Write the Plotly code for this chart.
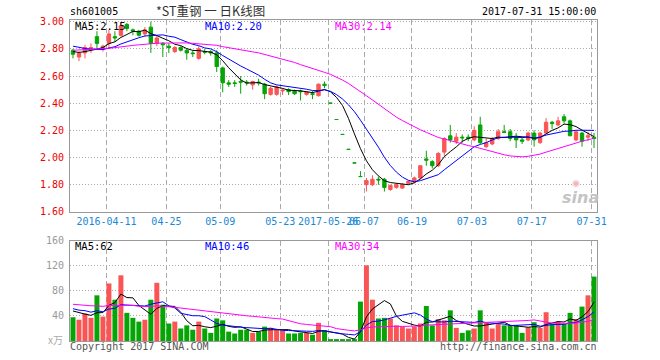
import plotly.graph_objects as go
import pandas as pd

# ---------------- data ----------------
dates = [
    "2016-03-31", "2016-04-01", "2016-04-05", "2016-04-06", "2016-04-07", "2016-04-08",
    "2016-04-11", "2016-04-12", "2016-04-13", "2016-04-14", "2016-04-15",
    "2016-04-18", "2016-04-19", "2016-04-20", "2016-04-21", "2016-04-22",
    "2016-04-25", "2016-04-26", "2016-04-27", "2016-04-28", "2016-04-29",
    "2016-05-03", "2016-05-04", "2016-05-05", "2016-05-06",
    "2016-05-09", "2016-05-10", "2016-05-11", "2016-05-12", "2016-05-13",
    "2016-05-16", "2016-05-17", "2016-05-18", "2016-05-19", "2016-05-20",
    "2016-05-23", "2016-05-24", "2016-05-25", "2016-05-26", "2016-05-27",
    "2016-05-30", "2016-05-31", "2016-06-01",
    "2017-05-26", "2017-05-31", "2017-06-01", "2017-06-02", "2017-06-05", "2017-06-06",
    "2017-06-07", "2017-06-08", "2017-06-09", "2017-06-12", "2017-06-13",
    "2017-06-14", "2017-06-15", "2017-06-16", "2017-06-19", "2017-06-20",
    "2017-06-21", "2017-06-22", "2017-06-23", "2017-06-26", "2017-06-27",
    "2017-06-28", "2017-06-29", "2017-06-30", "2017-07-03", "2017-07-04",
    "2017-07-05", "2017-07-06", "2017-07-07", "2017-07-10", "2017-07-11",
    "2017-07-12", "2017-07-13", "2017-07-14", "2017-07-17", "2017-07-18",
    "2017-07-19", "2017-07-20", "2017-07-21", "2017-07-24", "2017-07-25",
    "2017-07-26", "2017-07-27", "2017-07-28", "2017-07-31",
]

opens = [
    2.79, 2.74, 2.77, 2.80, 2.89, 2.80, 2.84, 2.89, 2.90, 2.98, 2.94,
    2.93, 2.91, 2.96, 2.84, 2.84, 2.82, 2.78, 2.81, 2.79, 2.77,
    2.73, 2.78, 2.78, 2.77, 2.66, 2.55, 2.55, 2.56, 2.555,
    2.535, 2.555, 2.54, 2.465, 2.465, 2.49, 2.50, 2.49, 2.49, 2.465,
    2.47, 2.455, 2.54,
    2.40, 2.28, 2.17, 2.06, 1.96, 1.86,
    1.80, 1.80, 1.84, 1.84, 1.765, 1.78, 1.775, 1.81, 1.82, 1.85,
    1.99, 1.97, 1.94, 2.04, 2.16, 2.12, 2.15, 2.15, 2.13, 2.24,
    2.08, 2.10, 2.14, 2.19, 2.19, 2.15, 2.13, 2.13, 2.18, 2.11,
    2.18, 2.26, 2.24, 2.30, 2.27, 2.13, 2.18, 2.15, 2.15,
]
highs = [
    2.80, 2.78, 2.83, 2.84, 2.93, 2.83, 2.94, 2.93, 2.99, 2.99, 2.95,
    2.94, 2.96, 3.00, 2.90, 2.85, 2.84, 2.82, 2.82, 2.80, 2.79,
    2.82, 2.80, 2.79, 2.79, 2.67, 2.57, 2.57, 2.60, 2.57,
    2.565, 2.58, 2.55, 2.52, 2.53, 2.51, 2.51, 2.50, 2.50, 2.49,
    2.49, 2.545, 2.56,
    2.40, 2.28, 2.17, 2.06, 1.96, 1.90,
    1.85, 1.87, 1.86, 1.85, 1.80, 1.81, 1.81, 1.83, 1.86, 1.94,
    2.05, 1.98, 2.04, 2.15, 2.24, 2.18, 2.17, 2.17, 2.23, 2.30,
    2.14, 2.15, 2.21, 2.24, 2.21, 2.18, 2.15, 2.19, 2.20, 2.19,
    2.29, 2.27, 2.30, 2.32, 2.28, 2.20, 2.19, 2.19, 2.18,
]
lows = [
    2.73, 2.71, 2.73, 2.77, 2.80, 2.78, 2.80, 2.85, 2.89, 2.93, 2.90,
    2.89, 2.89, 2.77, 2.82, 2.74, 2.77, 2.77, 2.78, 2.72, 2.74,
    2.72, 2.76, 2.75, 2.63, 2.48, 2.52, 2.52, 2.47, 2.53,
    2.50, 2.53, 2.43, 2.455, 2.455, 2.46, 2.46, 2.46, 2.42, 2.455,
    2.43, 2.45, 2.51,
    2.40, 2.28, 2.17, 2.06, 1.96, 1.86,
    1.75, 1.79, 1.80, 1.75, 1.755, 1.77, 1.77, 1.80, 1.81, 1.84,
    1.94, 1.92, 1.93, 2.01, 2.11, 2.10, 2.11, 2.12, 2.12, 2.10,
    2.07, 2.09, 2.13, 2.18, 2.12, 2.07, 2.10, 2.12, 2.08, 2.10,
    2.18, 2.21, 2.23, 2.25, 2.16, 2.12, 2.08, 2.12, 2.07,
]
closes = [
    2.76, 2.77, 2.81, 2.81, 2.84, 2.82, 2.91, 2.88, 2.97, 2.95, 2.93,
    2.90, 2.94, 2.84, 2.88, 2.83, 2.81, 2.81, 2.79, 2.77, 2.765,
    2.80, 2.775, 2.77, 2.67, 2.55, 2.54, 2.545, 2.555, 2.55,
    2.56, 2.55, 2.47, 2.51, 2.52, 2.495, 2.485, 2.47, 2.485, 2.485,
    2.465, 2.54, 2.53,
    2.40, 2.28, 2.17, 2.06, 1.96, 1.86,
    1.83, 1.84, 1.835, 1.78, 1.795, 1.80, 1.80, 1.825, 1.85, 1.94,
    1.98, 1.94, 2.03, 2.14, 2.13, 2.15, 2.145, 2.14, 2.20, 2.11,
    2.11, 2.14, 2.19, 2.185, 2.14, 2.13, 2.12, 2.18, 2.13, 2.18,
    2.26, 2.25, 2.27, 2.27, 2.16, 2.19, 2.12, 2.16, 2.14,
]
volumes = [
    38, 34, 44, 37, 73, 39, 92, 66, 105, 45, 37,
    31, 34, 66, 93, 58, 28, 31, 20, 25, 18,
    31, 20, 13, 36, 33, 15, 12, 18, 18,
    13, 15, 23, 21, 18, 17, 12, 12, 13, 13,
    10, 29, 17,
    3, 3, 3, 3, 3, 63,
    121, 66, 36, 37, 36, 25, 23, 20, 23, 28,
    56, 25, 35, 33, 49, 21, 13, 17, 20, 49,
    29, 20, 27, 25, 25, 25, 13, 22, 30, 21,
    46, 27, 31, 27, 45, 35, 55, 73, 103,
]

# estimated sessions just before the window (only used to seed the moving averages)
prior_closes = [2.72, 2.74, 2.76, 2.75, 2.78, 2.77, 2.74, 2.76, 2.79, 2.80,
                2.78, 2.77, 2.75, 2.78, 2.80, 2.79, 2.77, 2.78, 2.81, 2.85,
                2.88, 2.87, 2.86, 2.85, 2.84, 2.80, 2.78, 2.77, 2.79]
prior_volumes = [70, 55, 62, 80, 58, 49, 66, 71, 54, 60,
                 75, 52, 61, 57, 68, 63, 59, 55, 64, 65,
                 58, 52, 61, 50, 56, 48, 55, 47, 52]

tick_dates = ["2016-04-11", "2016-04-25", "2016-05-09", "2016-05-23", "2017-05-26",
              "2017-06-07", "2017-06-19", "2017-07-03", "2017-07-17", "2017-07-31"]
tick_labels = ["2016-04-11", "04-25", "05-09", "05-23", "2017-05-26",
               "06-07", "06-19", "07-03", "07-17", "07-31"]
price_ticks = [3.00, 2.80, 2.60, 2.40, 2.20, 2.00, 1.80, 1.60]
vol_ticks = [40, 80, 120, 160]

# ---------------- derived ----------------
n = len(dates)
x = list(range(n))
np_ = len(prior_closes)
cs = pd.Series(prior_closes + closes)
vs = pd.Series(prior_volumes + volumes)
ma = {}
for w in (5, 10, 30):
    ma[("p", w)] = cs.rolling(w, min_periods=1).mean().iloc[np_:].tolist()
    ma[("v", w)] = vs.rolling(w, min_periods=1).mean().iloc[np_:].tolist()

RED = "#fa5555"
GREEN = "#05a505"
MA_COL = {5: "#000000", 10: "#0000ff", 30: "#ff00ff"}
MONO = "DejaVu Sans Mono"
GRIDC = "#aaaaaa"
FRAME = "#999999"

bar_colors = [RED if c > o else GREEN for o, c in zip(opens, closes)]

fig = go.Figure()
fig.add_trace(go.Candlestick(
    x=x, open=opens, high=highs, low=lows, close=closes,
    increasing=dict(line=dict(color=RED, width=1), fillcolor=RED),
    decreasing=dict(line=dict(color=GREEN, width=1), fillcolor=GREEN),
    whiskerwidth=0, hoverinfo="skip", xaxis="x", yaxis="y"))
for w in (5, 10, 30):
    fig.add_trace(go.Scatter(x=x, y=ma[("p", w)], mode="lines",
                             line=dict(color=MA_COL[w], width=1),
                             hoverinfo="skip", xaxis="x", yaxis="y"))
fig.add_trace(go.Bar(x=x, y=volumes, marker=dict(color=bar_colors, line=dict(width=0)),
                     hoverinfo="skip", xaxis="x2", yaxis="y2"))
for w in (5, 10, 30):
    fig.add_trace(go.Scatter(x=x, y=ma[("v", w)], mode="lines",
                             line=dict(color=MA_COL[w], width=1),
                             hoverinfo="skip", xaxis="x2", yaxis="y2"))

tickvals = [dates.index(d) - 0.4 for d in tick_dates]

# pixel geometry helpers
L, R, T, B = 70, 597, 20, 340.7
W, H = R - L, B - T
def px(xp):
    return (xp - L) / W
def py(yp):
    return (B - yp) / H

price_dom = [py(211.7), 1.0]
vol_dom = [0.0, py(240.7)]

common_x = dict(range=[-0.5, n - 0.5], tickmode="array", tickvals=tickvals,
                showgrid=True, gridcolor=GRIDC, griddash="5px,3px", gridwidth=1,
                showline=True, mirror=True, linecolor=FRAME, linewidth=1,
                zeroline=False, ticks="", tickangle=0, fixedrange=True)

fig.update_layout(
    width=660, height=360,
    margin=dict(l=L, r=660 - R, t=T, b=360 - B),
    paper_bgcolor="white", plot_bgcolor="white",
    showlegend=False, bargap=0.17, boxgap=0.2,
    xaxis=dict(**common_x, anchor="y", ticktext=tick_labels,
               tickfont=dict(family=MONO, size=10, color="#1a88d8"),
               rangeslider=dict(visible=False)),
    yaxis=dict(domain=price_dom, range=[1.60, 3.0125], tickmode="array",
               tickvals=price_ticks, ticktext=[f"{v:.2f}" for v in price_ticks],
               tickfont=dict(family=MONO, size=10, color="#ee0000"),
               showgrid=True, gridcolor=GRIDC, griddash="1px,2px",
               showline=True, mirror=True, linecolor=FRAME, linewidth=1,
               zeroline=False, ticks="", ticklabelstandoff=3, fixedrange=True),
    xaxis2=dict(**common_x, anchor="y2", showticklabels=False),
    yaxis2=dict(domain=vol_dom, range=[0, 160], tickmode="array",
                tickvals=vol_ticks, ticktext=[str(v) for v in vol_ticks],
                tickfont=dict(family=MONO, size=10, color="#999999"),
                showgrid=True, gridcolor=GRIDC, griddash="1px,2px",
                showline=True, mirror=True, linecolor=FRAME, linewidth=1,
                zeroline=False, ticks="", ticklabelstandoff=3, fixedrange=True),
)

def ann(text, xp, yp, xanchor="left", color="#000", size=10, family=MONO, **kw):
    fig.add_annotation(text=text, x=px(xp), y=py(yp), xref="paper", yref="paper",
                       xanchor=xanchor, yanchor="middle", showarrow=False,
                       borderpad=0,
                       font=dict(family=family, size=size, color=color), **kw)

ann("sh601005", 69, 12, color="#000")
ann("*ST重钢 一 日K线图", 210, 11, xanchor="center", color="#333",
    size=12.5, family="Noto Sans CJK SC")
ann("2017-07-31 15:00:00", 597, 12, xanchor="right", color="#000")

ann(f"MA5:{ma[('p', 5)][-1]:.2f}", 74, 26, color=MA_COL[5], size=10.5)
ann(f"MA10:{ma[('p', 10)][-1]:.2f}", 204, 26, color=MA_COL[10], size=10.5)
ann(f"MA30:{ma[('p', 30)][-1]:.2f}", 334, 26, color=MA_COL[30], size=10.5)

ann(f"MA5:{round(ma[('v', 5)][-1])}", 74, 246, color=MA_COL[5], size=10.5)
ann(f"MA10:{round(ma[('v', 10)][-1])}", 204, 246, color=MA_COL[10], size=10.5)
ann(f"MA30:{round(ma[('v', 30)][-1])}", 334, 246, color=MA_COL[30], size=10.5)

ann("x万", 64, 339, xanchor="right", color="#aaaaaa", size=10, family="Noto Sans CJK SC")
ann("Copyright 2017 SINA.COM", 69, 346, color="#555555")
ann("http://finance.sina.com.cn", 598, 346, xanchor="right", color="#555555")

ann("<b><i>sina</i></b>", 580, 197, xanchor="center", color="#c4c4c4", size=16,
    family="DejaVu Sans")
ann("◉", 576, 183, xanchor="center", color="#f0b4b4", size=9, family="DejaVu Sans")

fig.write_html("out.html",
               config={"displayModeBar": False, "staticPlot": True},
               post_script="document.body.style.margin='0px';"
                           "document.documentElement.style.margin='0px';")
